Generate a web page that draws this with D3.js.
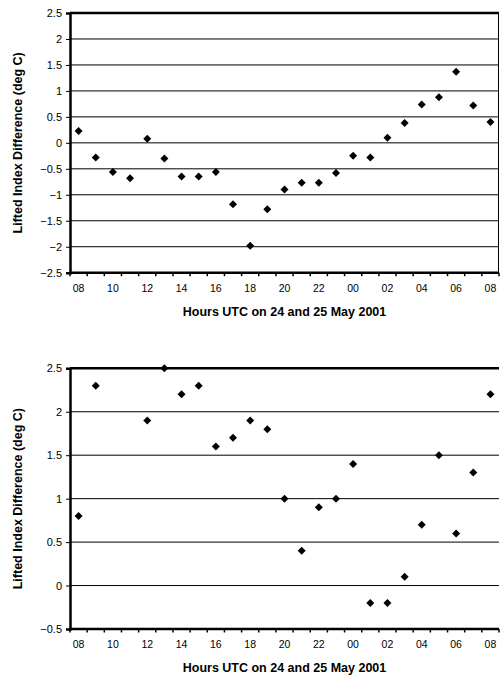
<!DOCTYPE html>
<meta charset="utf-8">

<head>
    <style>
        body {
            margin: 0;
            background: white;
        }

        .tick text {
            font-family: 'Liberation Sans', Arial, sans-serif;
        }

        .y-axis text {
            font-size: 11px;
        }

        .axis-title {
            font-family: 'Liberation Sans', Arial, sans-serif;
            font-size: 12.5px;
            font-weight: 700;
            text-anchor: middle;
        }
    </style>
</head>

<script src="https://d3js.org/d3.v7.min.js"></script>

<div id="charts"></div>

<script>

    // hours on the x axis (24 May 08 UTC -> 25 May 08 UTC)
    const hours = ["08", "09", "10", "11", "12", "13", "14", "15", "16", "17", "18", "19",
        "20", "21", "22", "23", "00", "01", "02", "03", "04", "05", "06", "07", "08"];

    // top panel
    const topValues = [0.23, -0.28, -0.56, -0.68, 0.08, -0.3, -0.65, -0.65, -0.56, -1.18, -1.98, -1.28,
        -0.9, -0.77, -0.77, -0.58, -0.25, -0.28, 0.1, 0.38, 0.74, 0.88, 1.37, 0.72, 0.4];
    const topTicks = [-2.5, -2, -1.5, -1, -0.5, 0, 0.5, 1, 1.5, 2, 2.5];

    // bottom panel (no values at 10 and 11)
    const bottomValues = [0.8, 2.3, null, null, 1.9, 2.5, 2.2, 2.3, 1.6, 1.7, 1.9, 1.8,
        1.0, 0.4, 0.9, 1.0, 1.4, -0.2, -0.2, 0.1, 0.7, 1.5, 0.6, 1.3, 2.2];
    const bottomTicks = [-0.5, 0, 0.5, 1, 1.5, 2, 2.5];

    const xTitle = "Hours UTC on 24 and 25 May 2001";
    const yTitle = "Lifted Index Difference (deg C)";

    const width = 500, height = 681;

    const svg = d3.select("#charts")
        .append("svg")
        .attr("width", width)
        .attr("height", height);

    function drawPanel(values, ticks, box, rightBorder) {
        const g = svg.append("g");

        const x = d3.scaleBand()
            .domain(d3.range(hours.length))
            .range([box.left, box.right]);

        const y = d3.scaleLinear()
            .domain(d3.extent(ticks))
            .range([box.bottom, box.top]);

        // gridlines
        g.selectAll(".grid")
            .data(ticks.slice(1))
            .enter()
            .append("line")
            .attr("x1", box.left)
            .attr("x2", box.right)
            .attr("y1", d => y(d))
            .attr("y2", d => y(d))
            .attr("stroke", "black")
            .attr("stroke-width", (d, i) => i == ticks.length - 2 ? 2.5 : 1);

        if (rightBorder) {
            g.append("line")
                .attr("x1", box.right - 0.5)
                .attr("x2", box.right - 0.5)
                .attr("y1", box.top)
                .attr("y2", box.bottom)
                .attr("stroke", "black");
        }

        // y axis
        g.append("g")
            .attr("class", "y-axis")
            .attr("transform", "translate(" + box.left + ",0)")
            .call(d3.axisLeft(y).tickValues(ticks).tickSize(4).tickPadding(4).tickFormat(d3.format("")))
            .call(a => a.select(".domain").attr("stroke-width", 2.5))
            .call(a => a.selectAll(".tick text").attr("fill", "black"));

        // x axis: ticks between categories, labels every other hour
        const xa = g.append("g")
            .attr("class", "x-axis")
            .attr("transform", "translate(0," + box.bottom + ")");
        xa.append("line")
            .attr("x1", box.left)
            .attr("x2", box.right)
            .attr("stroke", "black")
            .attr("stroke-width", 2.5);
        xa.selectAll(".xt")
            .data(d3.range(hours.length + 1))
            .enter()
            .append("line")
            .attr("x1", i => box.left + i * x.step())
            .attr("x2", i => box.left + i * x.step())
            .attr("y1", 0)
            .attr("y2", 3.5)
            .attr("stroke", "black")
            .attr("stroke-width", 1.5);
        xa.selectAll(".xl")
            .data(hours.map((h, i) => ({ h, i })).filter(d => d.i % 2 == 0))
            .enter()
            .append("text")
            .attr("x", d => x(d.i) + x.bandwidth() / 2)
            .attr("y", 19)
            .attr("text-anchor", "middle")
            .style("font-family", "'Liberation Sans', Arial, sans-serif")
            .style("font-size", "10.5px")
            .text(d => d.h);

        // markers
        g.selectAll(".pt")
            .data(values.map((v, i) => ({ v, i })).filter(d => d.v != null))
            .enter()
            .append("path")
            .attr("d", d3.symbol().type(d3.symbolSquare).size(32))
            .attr("transform", d => "translate(" + (x(d.i) + x.bandwidth() / 2) + "," + y(d.v) + ") rotate(45)")
            .attr("fill", "black");

        // titles
        g.append("text")
            .attr("class", "axis-title")
            .attr("x", (box.left + box.right) / 2)
            .attr("y", box.bottom + 43)
            .text(xTitle);
        g.append("text")
            .attr("class", "axis-title")
            .attr("transform", "translate(22," + (box.top + box.bottom) / 2 + ") rotate(-90)")
            .text(yTitle);
    }

    drawPanel(topValues, topTicks, { left: 70, right: 499, top: 13, bottom: 272.7 }, true);
    drawPanel(bottomValues, bottomTicks, { left: 70, right: 499, top: 368.3, bottom: 629 }, false);
</script>
